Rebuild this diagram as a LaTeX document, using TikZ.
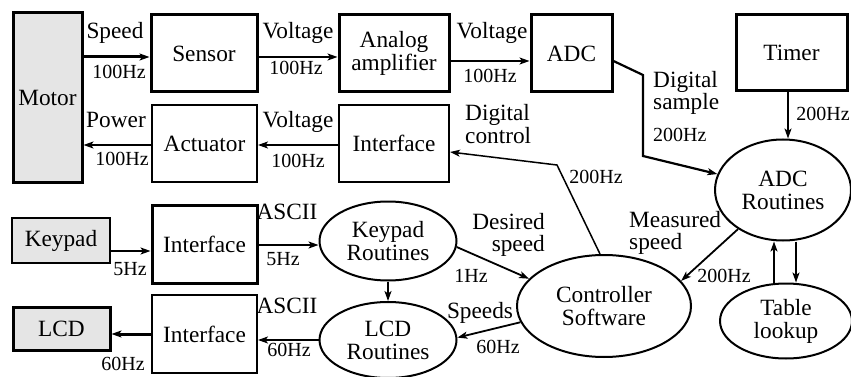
\documentclass[tikz,border=0pt]{standalone}
\usepackage{fontspec}
\setmainfont{Liberation Serif}
\usetikzlibrary{arrows.meta,shapes.geometric}
\begin{document}
\begin{tikzpicture}[x=1pt,y=-1pt,
  every node/.style={font=\fontsize{23.3}{23}\selectfont, inner sep=0pt},
  blk/.style={draw, line width=2pt, align=center},
  blkthick/.style={blk, line width=3pt},
  ell/.style={draw, ellipse, line width=2pt, align=center},
  lab/.style={anchor=base},
  labl/.style={anchor=base west},
  labr/.style={anchor=base east},
  hz/.style={font=\fontsize{20}{20}\selectfont, anchor=base},
  hzl/.style={hz, anchor=base west},
  arr/.style={line width=1.8pt, -{Stealth[length=10pt,width=7pt,inset=2.5pt]}},
  arrthick/.style={arr, line width=3pt},
  ln/.style={line width=1.8pt}
]
\useasboundingbox (0,0) rectangle (851,377);
\colorlet{boxgray}{gray!20}
% boxes
\node[blkthick, fill=boxgray, minimum width=69pt, minimum height=169pt] (motor) at (47.5,97.5) {Motor};
\node[blkthick, minimum width=106pt, minimum height=77pt] (sensor) at (204,53.5) {Sensor};
\node[blk, minimum width=105pt, minimum height=77pt] (act) at (204.5,143.5) {Actuator};
\node[blkthick, minimum width=110pt, minimum height=77pt] (amp) at (394,53.5) {Analog\\amplifier};
\node[blk, minimum width=110pt, minimum height=77pt] (if1) at (394,143.5) {Interface};
\node[blkthick, minimum width=81pt, minimum height=77pt] (adc) at (571.5,53.5) {ADC};
\node[blkthick, minimum width=111pt, minimum height=76pt] (timer) at (791.5,53) {Timer};
\node[blk, fill=boxgray, minimum width=98pt, minimum height=45pt] (keypad) at (61,240.5) {Keypad};
\node[blkthick, minimum width=105pt, minimum height=78pt] (ifk) at (204.5,244) {Interface};
\node[blkthick, fill=boxgray, minimum width=97pt, minimum height=43pt] (lcd) at (61.5,328.5) {LCD};
\node[blk, minimum width=105pt, minimum height=78pt] (ifl) at (204.5,334) {Interface};
% ellipses
\node[ell, minimum width=136pt, minimum height=101pt] (adcr) at (783,190) {ADC\\Routines};
\node[ell, minimum width=174pt, minimum height=102pt] (ctrl) at (604,306) {Controller\\Software};
\node[ell, minimum width=137pt, minimum height=79pt] (kr) at (388,241) {Keypad\\Routines};
\node[ell, minimum width=137pt, minimum height=76pt] (lcdr) at (388,340) {LCD\\Routines};
\node[ell, minimum width=132pt, minimum height=75pt] (table) at (786,321) {Table\\lookup};
% connectors
\draw[arrthick] (motor.east |- 0,57) -- (sensor.west |- 0,57);
\draw[arr] (sensor.east |- 0,57) -- (amp.west |- 0,57);
\draw[arr] (amp.east |- 0,61) -- (adc.west |- 0,61);
\draw[arr] (act.west |- 0,145) -- (motor.east |- 0,145);
\draw[arr] (if1.west |- 0,145) -- (act.east |- 0,145);
\draw[arr, line width=2.2pt] (adc.east |- 0,61) -- (643,75) -- (643,156) -- (adcr);
\draw[arr] (timer.south -| 788,0) -- (adcr.north -| 788,0);
\draw[arr, line width=1.5pt] ([xshift=-4pt]ctrl.north) -- (557,165) -- (if1.east |- 0,152);
\draw[arr] (keypad.east |- 0,251) -- (ifk.west |- 0,251);
\draw[arr] (ifk.east |- 0,245) -- (kr.west |- 0,245);
\draw[arr] (kr.south) -- (lcdr.north);
\draw[arr] (lcdr.west |- 0,340) -- (ifl.east |- 0,340);
\draw[arrthick] (ifl.west |- 0,334) -- (lcd.east |- 0,334);
\draw[arr] (kr.-5) -- (ctrl.160);
\draw[arr] (ctrl.191) -- (lcdr.2);
\draw[arr] (adcr.221) -- (ctrl.18);
\draw[arr, line width=2.4pt] (table.north -| 774,0) -- (adcr.south -| 774,0);
\draw[arr, line width=2.4pt] (adcr.south -| 796,0) -- (table.north -| 796,0);
% labels
\node[lab] (l1) at (115,39) {Speed};
\node[hz] (l2) at (119,79) {100Hz};
\node[lab] (l3) at (116,128) {Power};
\node[hz] (l4) at (122,165) {100Hz};
\node[lab] (l5) at (298,39) {Voltage};
\node[hz] (l6) at (296,75) {100Hz};
\node[lab] (l7) at (298,128) {Voltage};
\node[hz] (l8) at (298,167) {100Hz};
\node[lab] (l9) at (492,39) {Voltage};
\node[hz] (l10) at (490,83) {100Hz};
\node[labl] (l11) at (465,121) {Digital};
\node[labl] (l12) at (465,143) {control};
\node[hz] (l13) at (596,183) {200Hz};
\node[labl] (l14) at (653,88) {Digital};
\node[labl] (l15) at (653,110) {sample};
\node[hzl] (l16) at (653,142) {200Hz};
\node[hz] (l17) at (823,121) {200Hz};
\node[hz] (l18) at (130,275) {5Hz};
\node[hz] (l19) at (123,370) {60Hz};
\node[lab] (l20) at (287,219) {ASCII};
\node[hz] (l21) at (283,265) {5Hz};
\node[lab] (l22) at (287,313) {ASCII};
\node[hz] (l23) at (289,356) {60Hz};
\node[labr] (l24) at (545,229) {Desired};
\node[labr] (l25) at (545,251) {speed};
\node[hz] (l26) at (471,282) {1Hz};
\node[lab] (l27) at (480,318) {Speeds};
\node[hz] (l28) at (498,353) {60Hz};
\node[labl] (l29) at (629,227) {Measured};
\node[labl] (l30) at (629,249) {speed};
\node[hz] (l31) at (724,282) {200Hz};
\end{tikzpicture}
\end{document}
